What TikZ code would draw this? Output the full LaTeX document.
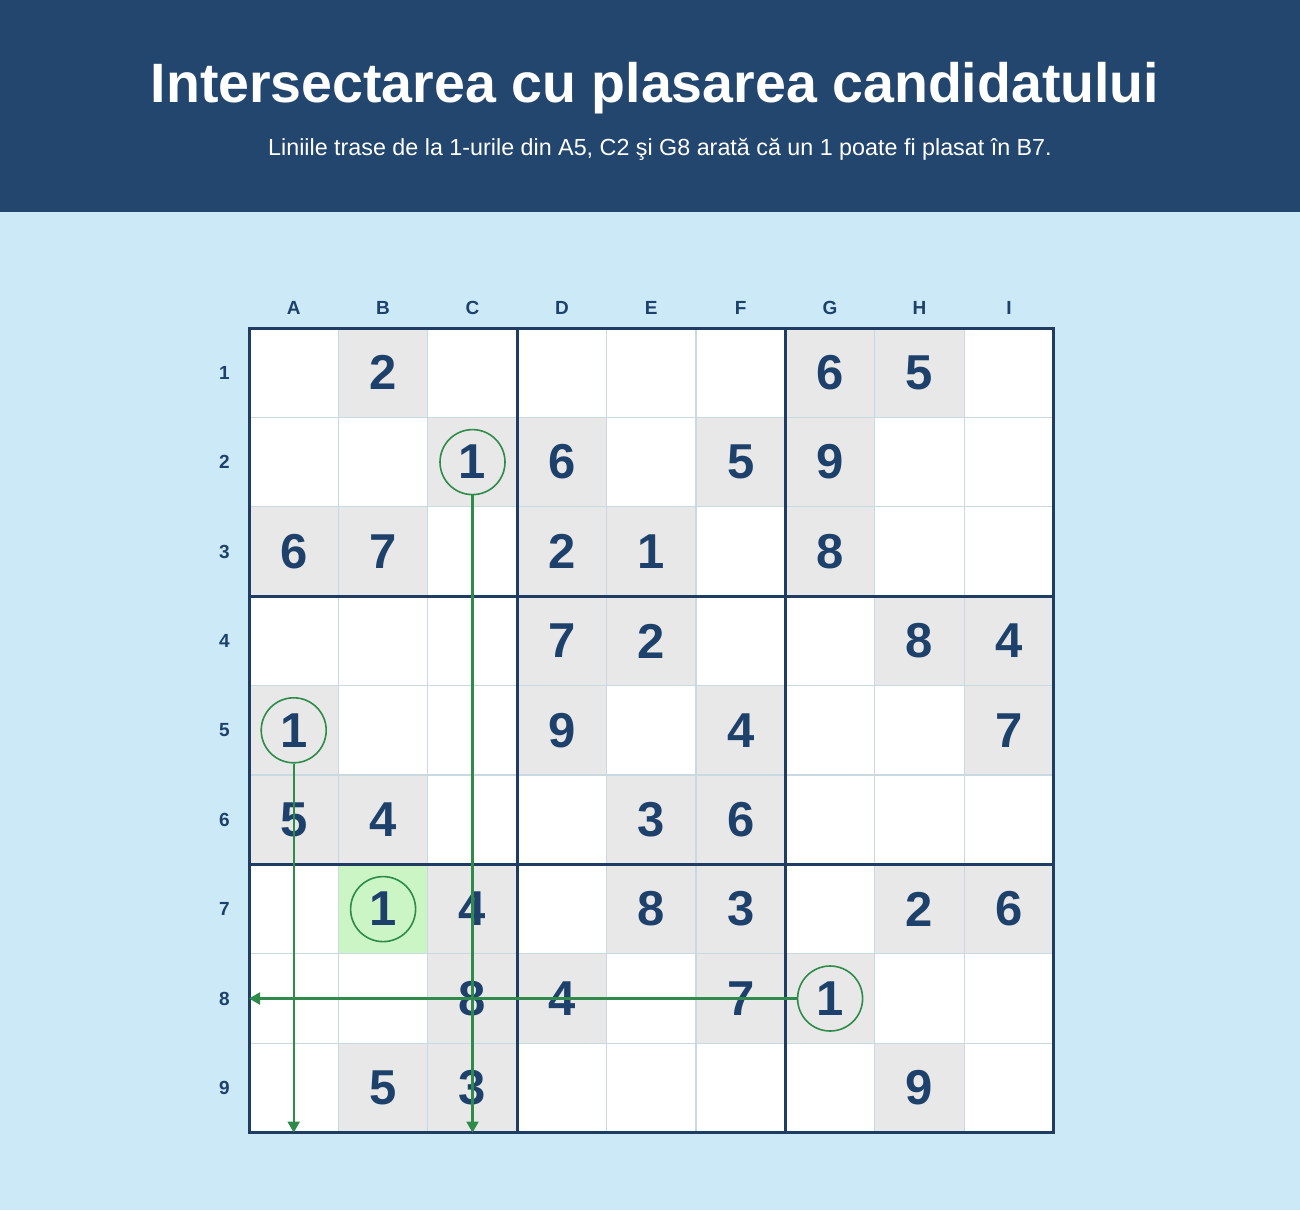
\documentclass[tikz,border=0pt]{standalone}
\usepackage{fontspec}
\setmainfont{Liberation Sans}
\usetikzlibrary{arrows.meta, positioning}

\definecolor{headblue}{HTML}{23466F}
\definecolor{pagebg}{HTML}{CCE9F8}
\definecolor{inkblue}{HTML}{1E416B}
\definecolor{gridblue}{HTML}{1F3D63}
\definecolor{thingrey}{HTML}{C9D9E2}
\definecolor{givenbg}{HTML}{E8E8E8}
\definecolor{hitbg}{HTML}{CCF5C6}
\definecolor{tracegreen}{HTML}{2E8B4A}

\begin{document}
\begin{tikzpicture}[
    x=1pt, y=-1pt,
    given/.style={rectangle, minimum size=89.4pt, inner sep=0pt, fill=givenbg, text=inkblue, font=\fontsize{49}{49}\selectfont\bfseries},
    hit/.style={given, fill=hitbg},
    cand/.style={circle, draw=tracegreen, line width=1.6pt, minimum size=65pt, inner sep=0pt},
    lbl/.style={text=inkblue, font=\fontsize{19}{19}\selectfont\bfseries},
    traceline/.style={draw=tracegreen, line width=2.1pt, -{Triangle[length=11pt, width=12pt]}}
]
% page and header
\fill[pagebg] (0,0) rectangle (1300,1210);
\fill[headblue] (0,0) rectangle (1300,212);
\useasboundingbox (0,0) rectangle (1300,1210);
\node[anchor=base, text=white, font=\fontsize{55.5}{55.5}\selectfont\bfseries] (title) at (655,102) {Intersectarea cu plasarea candidatului};
\node[anchor=base, text=white, font=\fontsize{23.3}{23.3}\selectfont] (subtitle) at (660,155) {Liniile trase de la 1-urile din A5, C2 şi G8 arată că un 1 poate fi plasat în B7.};

% board
\coordinate (nw) at (249,328);
\coordinate (se) at (1053.6,1132.6);
\fill[white] (nw) rectangle (se);
\foreach \col [count=\i] in {A,B,C,D,E,F,G,H,I} {
    \node[lbl] (col\col) at ({249+(\i-0.5)*89.4}, 307.5) {\col};
    \node[lbl] (row\i) at (224.5, {328+(\i-0.5)*89.4}) {\i};
    \foreach \r in {1,...,9}
        \coordinate (\col\r) at ({249+(\i-0.5)*89.4}, {328+(\r-0.5)*89.4});
}

% givens
\foreach \c/\v in {B1/2, G1/6, H1/5, C2/1, D2/6, F2/5, G2/9,
    A3/6, B3/7, D3/2, E3/1, G3/8, D4/7, E4/2, H4/8, I4/4,
    A5/1, D5/9, F5/4, I5/7, A6/5, B6/4, E6/3, F6/6,
    C7/4, E7/8, F7/3, H7/2, I7/6, C8/8, D8/4, F8/7, G8/1,
    B9/5, C9/3, H9/9}
    \node[given] (d\c) at (\c) {\v};
\node[hit] (dB7) at (B7) {1};

% grid lines
\foreach \k in {1,2,4,5,7,8} {
    \draw[thingrey, line width=1.3pt] ({249+\k*89.4},328) -- ++(0,804.6);
    \draw[thingrey, line width=1.3pt] (249,{328+\k*89.4}) -- ++(804.6,0);
}
\foreach \k in {3,6} {
    \draw[gridblue, line width=2.6pt] ({249+\k*89.4},328) -- ++(0,804.6);
    \draw[gridblue, line width=2.6pt] (249,{328+\k*89.4}) -- ++(804.6,0);
}
\draw[gridblue, line width=3pt] (nw) rectangle (se);

% candidates and traces
\node[cand] (candA5) at (A5) {};
\node[cand] (candC2) at (C2) {};
\node[cand] (candG8) at (G8) {};
\node[cand] (candB7) at (B7) {};
\coordinate (endA) at (candA5 |- se);
\coordinate (endC) at (candC2 |- se);
\coordinate (endG) at (nw |- candG8);
\draw[traceline] (candA5.south) -- (endA);
\draw[traceline] (candC2.south) -- (endC);
\draw[traceline] (candG8.west) -- (endG);
\end{tikzpicture}
\end{document}
